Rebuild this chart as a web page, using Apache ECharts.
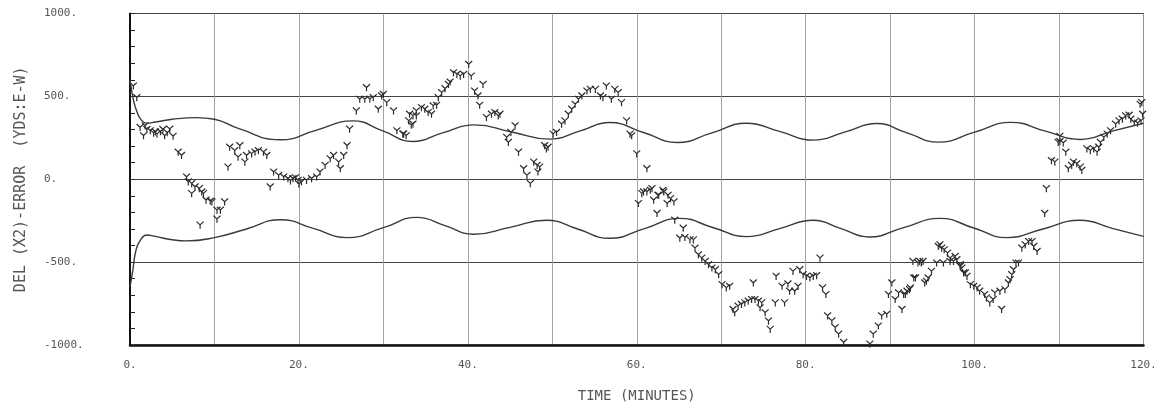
<!DOCTYPE html>
<html>
<head>
<meta charset="utf-8">
<script src="https://cdn.jsdelivr.net/npm/echarts@6/dist/echarts.min.js"></script>
<style>
  html, body { margin: 0; padding: 0; background: #ffffff; }
  #chart { width: 1168px; height: 408px; }
</style>
</head>
<body>
<div id="chart"></div>
<script>
// Axis ranges and tick labels
const xTicks = [0, 20, 40, 60, 80, 100, 120];
const yTicks = [-1000, -500, 0, 500, 1000];

// Upper error bound curve: [minutes, yards]
const upperBound = [
  [0, 600], [0.4, 480], [0.8, 410], [1.3, 360], [2, 338], [3, 345], [5, 362], [7.9, 372],
  [10, 362], [12.9, 305], [17.8, 238], [22, 295], [26.4, 352], [30, 290], [33.5, 228],
  [37, 280], [40.8, 328], [45.2, 285], [49.7, 242], [53.3, 292], [56.8, 342], [60.8, 282],
  [64.8, 222], [68.9, 280], [73, 338], [77, 287], [80.9, 236], [84.7, 286], [88.4, 336],
  [92, 280], [95.7, 224], [100, 284], [104.3, 343], [108.4, 290], [112.5, 240], [116.3, 290],
  [120, 338]
];

// Lower error bound curve: [minutes, yards]
const lowerBound = [
  [0, -650], [0.3, -560], [0.7, -430], [1.2, -370], [2, -336], [3, -345], [5, -365], [6.7, -372],
  [10, -352], [13.8, -300], [17.8, -244], [21.8, -298], [25.7, -352], [30, -292], [34, -230],
  [37.3, -280], [40.7, -332], [45, -290], [49.3, -247], [53, -300], [56.8, -356], [61, -296],
  [65.1, -236], [69, -291], [73, -346], [77, -296], [80.9, -247], [84.2, -298], [87.5, -348],
  [91.6, -292], [95.9, -236], [99.9, -294], [103.8, -352], [108.1, -300], [112.5, -247],
  [116.3, -296], [120, -345]
];

// Observed position error samples: [minutes, yards]
const errorSamples = [
  [0.4,562],[0.8,492],[1.2,312],[1.8,322],[1.6,262],[2.0,300],[2.4,292],[2.8,278],[3.0,285],
  [3.2,272],[3.6,286],[3.9,300],[4.1,262],[4.4,280],[4.7,302],[5.1,259],[5.7,163],[6.1,143],
  [6.7,13],[6.9,-17],[7.3,-27],[7.7,-47],[8.2,-57],[7.3,-87],[8.7,-87],[8.5,-77],[8.3,-277],
  [9.0,-127],[9.5,-133],[9.7,-137],[11.2,-137],[10.3,-187],[10.7,-187],[10.3,-241],
  [11.8,193],[12.4,172],[13.0,202],[13.8,143],[14.4,153],[14.8,163],[15.2,172],[15.8,163],
  [16.2,143],[13.6,103],[11.6,73],[12.8,133],[16.6,-47],
  [17.0,43],[17.6,23],[18.2,13],[18.7,3],[19.0,-10],[19.3,3],[19.6,8],[19.9,-7],[20.0,-30],
  [20.3,-17],[20.9,-7],[21.5,3],[22.1,13],[22.5,43],[23.1,83],[23.7,123],[24.1,143],[24.7,103],
  [24.9,63],[25.3,143],[25.7,202],[26.0,302],
  [26.8,412],[27.2,482],[27.8,482],[28.4,482],[28.8,492],[29.4,422],[29.8,502],[28.0,552],
  [30.0,512],[30.4,462],[31.2,412],[31.6,292],[32.3,272],[33.1,392],[33.5,332],[33.9,412],
  [32.7,262],[32.4,272],
  [33.0,352],[33.5,382],[33.3,326],[33.9,382],[34.5,432],[34.9,422],[35.3,402],[35.7,392],
  [35.9,442],[36.3,446],[36.5,492],[36.9,522],[37.3,546],[37.7,572],[37.9,586],[38.3,642],
  [38.7,632],[39.1,622],[39.5,632],[40.1,692],[40.4,622],[41.8,572],[40.8,532],[41.2,502],
  [41.4,446],[42.2,372],[42.8,392],[43.2,402],[43.6,382],[43.8,392],
  [45.6,322],[45.1,282],[44.6,252],[44.8,222],[46.0,163],[46.6,63],[47.8,103],[48.2,83],
  [48.5,73],[47.0,23],[47.4,-27],[48.3,43],[49.1,202],[49.3,183],[49.5,193],[50.1,272],[50.5,282],
  [51.1,332],[51.5,352],[51.9,392],[52.3,422],[52.7,452],[53.1,482],[53.5,502],[54.1,532],
  [54.5,542],[55.1,542],[55.7,502],[56.0,492],[56.4,562],[57.0,482],[57.4,542],[57.8,522],
  [58.2,462],[58.8,352],[59.2,272],[59.4,262],[60.0,153],[61.2,63],
  [60.8,-77],[61.6,-67],[63.1,-67],[62.5,-97],[63.7,-97],[60.2,-147],[60.6,-87],[61.2,-77],
  [61.8,-57],[62.0,-127],[62.6,-97],[63.2,-77],[63.6,-147],[64.0,-117],[64.4,-137],[62.4,-207],
  [64.5,-247],[65.5,-296],[65.1,-356],[65.7,-352],[66.3,-366],[66.7,-366],
  [66.9,-416],[67.3,-456],[67.7,-476],[68.1,-496],[68.5,-516],[68.9,-536],[69.3,-546],[69.7,-576],
  [70.1,-636],[70.6,-656],[71.0,-646],[71.4,-786],[71.6,-806],[72.0,-766],[72.4,-756],[72.8,-746],
  [73.2,-736],[73.6,-726],[74.0,-726],[74.4,-736],[74.8,-746],[74.6,-776],[75.2,-806],[75.6,-856],
  [75.8,-906],[73.8,-626],
  [76.4,-746],[76.5,-586],[77.5,-746],[77.2,-646],[77.9,-632],[78.1,-676],[78.7,-676],[79.1,-646],
  [78.5,-556],[79.3,-546],[79.7,-576],[80.1,-586],[80.5,-596],[80.9,-586],[81.3,-582],[81.7,-476],
  [82.0,-656],[82.4,-696],[82.6,-825],[83.1,-855],[83.5,-895],[83.9,-935],[84.5,-985],
  [87.6,-995],[88.0,-935],[88.6,-886],[89.0,-825],[89.6,-815],[89.8,-696],[90.2,-626],[90.6,-726],
  [91.0,-686],[91.4,-786],[91.6,-696],[92.0,-676],[92.4,-656],[92.8,-596],[93.3,-506],[94.3,-616],
  [93.7,-506],[94.5,-596],[94.9,-556],[94.1,-626],[93.0,-596],[92.7,-496],[93.5,-496],[93.9,-496],
  [92.3,-666],[91.8,-696],
  [95.7,-406],[96.1,-416],[96.4,-426],[96.8,-446],[97.1,-476],[97.5,-496],[97.7,-466],[97.9,-486],
  [98.3,-526],[98.7,-566],[99.1,-586],[99.5,-636],[99.9,-646],[100.3,-656],[95.5,-506],[96.3,-506],
  [97.1,-496],[98.3,-516],[95.9,-396],[98.5,-536],[98.9,-566],[100.6,-676],[101.2,-696],[101.4,-716],
  [101.8,-746],[102.2,-726],[102.4,-686],[103.0,-676],[103.2,-786],[103.6,-666],[104.0,-626],
  [104.2,-606],[104.4,-576],[104.6,-546],[104.9,-506],[105.2,-506],[105.6,-416],[106.0,-396],
  [106.4,-376],[106.8,-376],[107.0,-406],[107.4,-436],
  [108.3,-207],[108.5,-57],[109.1,112],[109.5,103],[109.9,222],[110.1,226],[110.5,218],[110.8,163],
  [111.1,63],[111.5,83],[111.7,103],[112.1,93],[112.5,73],[112.7,53],[110.1,259],[113.3,183],
  [113.7,172],[114.1,183],[114.5,163],[114.7,193],[114.9,222],[115.3,252],[115.7,272],[116.1,292],
  [116.7,332],[117.1,352],[117.5,362],[117.9,382],[118.3,386],[118.5,362],[118.9,342],[119.3,338],
  [119.7,352],[119.8,462],[119.9,392],[119.6,452]
];

const plotFont = '"DejaVu Sans Mono", "Liberation Mono", monospace';
const inkColor = '#3a3a3a';

// Plotter-style "Y" marker drawn as three separate strokes
const yMarker = 'path://M0,0 L5,5 M10,0 L5,5 M5,5 L5,11';

const chart = echarts.init(document.getElementById('chart'), null, { renderer: 'canvas' });

chart.setOption({
  backgroundColor: '#ffffff',
  animation: false,
  grid: {
    left: 130, right: 24.5, top: 13.5, bottom: 60.5,
    show: true, borderColor: '#444', borderWidth: 1, backgroundColor: 'transparent'
  },
  xAxis: {
    type: 'value',
    min: xTicks[0], max: xTicks[xTicks.length - 1], interval: 10,
    name: 'TIME (MINUTES)',
    nameLocation: 'middle', nameGap: 44,
    nameTextStyle: { fontFamily: plotFont, fontSize: 14, color: '#555' },
    axisLine: { show: true, onZero: false, lineStyle: { color: '#111', width: 2.5 } },
    axisTick: { show: false },
    axisLabel: {
      margin: 15, fontFamily: plotFont, fontSize: 11, color: '#555',
      formatter: v => (xTicks.includes(v) ? v + '.' : '')
    },
    splitLine: { show: true, lineStyle: { color: '#9a9a9a', width: 0.9 } }
  },
  yAxis: {
    type: 'value',
    min: yTicks[0], max: yTicks[yTicks.length - 1], interval: 500,
    name: 'DEL (X2)-ERROR  (YDS:E-W)',
    nameLocation: 'middle', nameRotate: 90, nameGap: 101,
    nameTextStyle: { fontFamily: plotFont, fontSize: 15, color: '#555' },
    axisLine: { show: true, onZero: false, lineStyle: { color: '#111', width: 2 } },
    axisTick: { show: true, inside: true, length: 5, lineStyle: { color: '#222', width: 1 } },
    minorTick: { show: true, splitNumber: 5, length: 5, lineStyle: { color: '#222', width: 1 } },
    axisLabel: {
      margin: 86, align: 'left', fontFamily: plotFont, fontSize: 11, color: '#555',
      formatter: v => v + '.'
    },
    splitLine: { show: true, lineStyle: { color: '#444', width: 1.2 } }
  },
  series: [
    {
      type: 'line', data: upperBound, smooth: 0.5, showSymbol: false,
      lineStyle: { color: inkColor, width: 1.4 }
    },
    {
      type: 'line', data: lowerBound, smooth: 0.5, showSymbol: false,
      lineStyle: { color: inkColor, width: 1.4 }
    },
    {
      type: 'scatter', data: errorSamples,
      symbol: yMarker, symbolSize: [7, 7],
      itemStyle: { color: 'rgba(0,0,0,0)', borderColor: '#2a2a2a', borderWidth: 1.2, opacity: 1 }
    }
  ]
});
</script>
</body>
</html>
